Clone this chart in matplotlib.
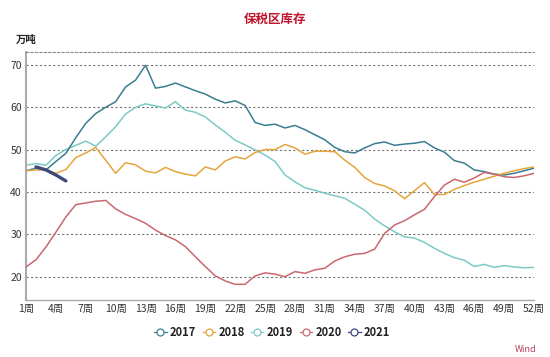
import matplotlib
matplotlib.use("Agg")
import matplotlib.pyplot as plt
from matplotlib.lines import Line2D

plt.rcParams['font.family'] = ['Noto Sans CJK SC', 'DejaVu Sans']

weeks = list(range(1, 53))
y2017 = [45.0, 45.6, 45.2, 47.2, 49.1, 52.8, 56.2, 58.5, 60.0, 61.3,
         64.8, 66.4, 69.9, 64.5, 64.9, 65.7, 64.8, 63.9, 63.1, 61.9,
         61.0, 61.5, 60.4, 56.4, 55.7, 56.0, 55.1, 55.7, 54.7, 53.5,
         52.3, 50.5, 49.5, 49.2, 50.4, 51.4, 51.8, 51.0, 51.3, 51.5,
         51.9, 50.4, 49.4, 47.4, 46.8, 45.2, 44.8, 44.2, 44.0, 44.4,
         45.0, 45.6]
y2018 = [45.0, 45.2, 45.2, 44.4, 45.3, 48.1, 49.2, 50.5, 47.5, 44.4,
         46.9, 46.4, 44.9, 44.5, 45.8, 44.8, 44.2, 43.8, 45.9, 45.2,
         47.3, 48.3, 47.8, 49.3, 50.0, 50.0, 51.2, 50.4, 48.9, 49.6,
         49.6, 49.5, 47.5, 45.8, 43.4, 42.0, 41.4, 40.3, 38.4, 40.3,
         42.2, 39.4, 39.4, 40.6, 41.5, 42.3, 43.0, 43.7, 44.4, 45.0,
         45.5, 45.9]
y2019 = [46.3, 46.7, 46.3, 48.6, 50.0, 51.0, 52.0, 50.8, 53.0, 55.4,
         58.4, 60.0, 60.8, 60.3, 59.8, 61.3, 59.3, 58.8, 57.7, 55.8,
         54.1, 52.2, 51.1, 49.9, 48.7, 47.2, 44.0, 42.4, 41.0, 40.4,
         39.7, 39.1, 38.5, 37.1, 35.7, 33.6, 32.0, 30.6, 29.4, 29.1,
         28.1, 26.7, 25.5, 24.5, 23.9, 22.4, 22.9, 22.2, 22.6, 22.3,
         22.1, 22.2]
y2020 = [22.3, 24.0, 27.0, 30.5, 34.1, 37.0, 37.4, 37.8, 38.0, 36.0,
         34.7, 33.7, 32.6, 31.0, 29.7, 28.7, 27.1, 24.7, 22.4, 20.2,
         19.0, 18.2, 18.2, 20.2, 20.9, 20.6, 20.0, 21.2, 20.8, 21.6,
         22.0, 23.7, 24.7, 25.3, 25.5, 26.5, 30.2, 32.2, 33.2, 34.6,
         35.9, 38.9, 41.6, 43.0, 42.3, 43.3, 44.6, 44.2, 43.6, 43.4,
         43.8, 44.4]
weeks2021 = [2, 3, 4, 5]
y2021 = [45.9, 45.2, 44.0, 42.6]

series_names = ['2017', '2018', '2019', '2020', '2021']
colors = ['#3a7d90', '#e5a53c', '#7ccac6', '#c9686d', '#3e4a7c']

xtick_weeks = list(range(1, 53, 3))
xtick_labels = [f'{w}周' for w in xtick_weeks]
yticks = [20, 30, 40, 50, 60, 70]

fig = plt.figure(figsize=(5.5, 3.57), dpi=100)
ax = fig.add_axes([0.0473, 0.1597, 0.9236, 0.6943])

ax.plot(weeks, y2017, color=colors[0], lw=1.1, zorder=3)
ax.plot(weeks, y2018, color=colors[1], lw=1.1, zorder=3)
ax.plot(weeks, y2019, color=colors[2], lw=1.1, zorder=2)
ax.plot(weeks, y2020, color=colors[3], lw=1.1, zorder=3)
ax.plot(weeks2021, y2021, color=colors[4], lw=2.4, zorder=4, solid_capstyle='round')

ax.set_xlim(1, 52)
ax.set_ylim(14.5, 73)
ax.set_yticks(yticks)
ax.set_yticklabels([str(v) for v in yticks], fontsize=7.5, color='#333333')
ax.set_xticks(xtick_weeks)
ax.set_xticklabels(xtick_labels, fontsize=7.5, color='#333333')
ax.tick_params(axis='both', length=0, pad=3)
ax.tick_params(axis='y', pad=3)
ax.yaxis.grid(True, linestyle=(0, (2, 2)), color='#777777', lw=0.8)
ax.set_axisbelow(True)

ax.spines['right'].set_visible(False)
ax.spines['top'].set_linestyle((0, (2, 2)))
ax.spines['top'].set_color('#888888')
ax.spines['top'].set_linewidth(0.8)
ax.spines['left'].set_color('#aaaaaa')
ax.spines['left'].set_linewidth(1.5)
ax.spines['bottom'].set_color('#aaaaaa')
ax.spines['bottom'].set_linewidth(1.0)

fig.text(0.5, 0.947, '保税区库存', ha='center', va='center', fontsize=9,
         color='#c0142c', fontweight='bold')
fig.text(0.029, 0.888, '万吨', ha='left', va='center', fontsize=7.5,
         color='#222222', fontweight='bold')
fig.text(0.955, 0.02, 'Wind', ha='center', va='center', fontsize=6.5,
         color='#b0405e')

handles = [Line2D([0], [0], color=c, lw=0.9, marker='o', markersize=5,
                  markerfacecolor='white', markeredgecolor=c, markeredgewidth=0.9)
           for c in colors]
leg = fig.legend(handles, series_names, loc='center', bbox_to_anchor=(0.495, 0.07),
                 ncol=5, frameon=False, fontsize=8, handlelength=1.1,
                 handletextpad=0.3, columnspacing=0.6)
for t in leg.get_texts():
    t.set_color('#222222')
    t.set_fontweight('bold')

fig.savefig('out.png', dpi=100)
